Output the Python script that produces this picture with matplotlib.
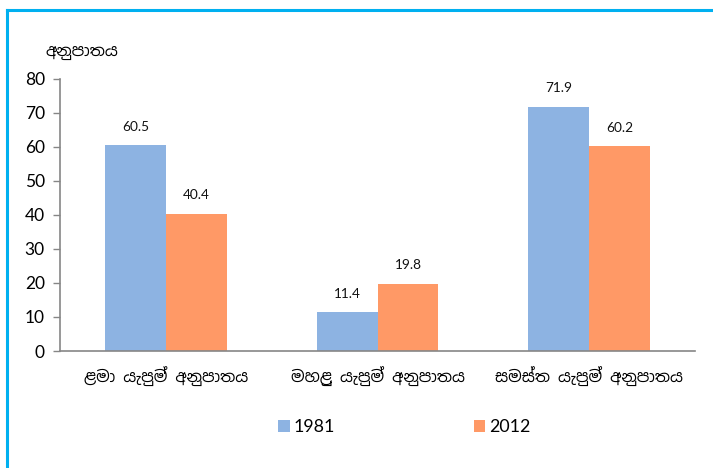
import matplotlib
matplotlib.use("Agg")
import matplotlib.pyplot as plt
from matplotlib.lines import Line2D
import numpy as np

SI = ["Noto Sans Sinhala", "DejaVu Sans"]
NUM = ["Lato", "DejaVu Sans"]

categories = ["ළමා යැපුම් අනුපාතය", "මහළු යැපුම් අනුපාතය", "සමස්ත යැපුම් අනුපාතය"]
series_names = ["1981", "2012"]
vals_1981 = [60.5, 11.4, 71.9]
vals_2012 = [40.4, 19.8, 60.2]
yticks = [0, 10, 20, 30, 40, 50, 60, 70, 80]

BLUE, ORANGE, AXIS = "#8DB3E2", "#FF9966", "#868686"

fig = plt.figure(figsize=(7.13, 4.68), dpi=100)
ax = fig.add_axes([0.0842, 0.25, 0.8906, 0.5812])

x = np.arange(len(categories))
w = 0.288
b1 = ax.bar(x - w / 2, vals_1981, w, color=BLUE, label=series_names[0])
b2 = ax.bar(x + w / 2, vals_2012, w, color=ORANGE, label=series_names[1])

for bars, vals in ((b1, vals_1981), (b2, vals_2012)):
    for b, v in zip(bars, vals):
        ax.annotate(f"{v}", (b.get_x() + b.get_width() / 2, v), xytext=(0, 9),
                    textcoords="offset points", ha="center", va="bottom",
                    fontsize=9.8, family=NUM, color="#111")

ax.set_xlim(-0.5, 2.5)
ax.set_ylim(0, 80)
ax.set_yticks(yticks)
ax.set_yticklabels([str(t) for t in yticks], family=NUM, fontsize=12.5)
ax.set_xticks(x)
ax.set_xticklabels(categories, family=SI, fontsize=11.5)
ax.tick_params(axis="x", length=0, pad=11)
ax.tick_params(axis="y", length=5, width=1, color=AXIS, pad=6, direction="out")
for s in ["top", "right"]:
    ax.spines[s].set_visible(False)
for s in ["left", "bottom"]:
    ax.spines[s].set_color(AXIS)
    ax.spines[s].set_linewidth(1.2)

fig.text(45 / 713, 1 - 52 / 468, "අනුපාතය", family=SI, fontsize=11.5,
         ha="left", va="center")

fig.legend(handles=[b1, b2], loc="center", bbox_to_anchor=(0.567, 0.088), ncol=2,
           frameon=False, prop={"family": NUM, "size": 12.8}, handlelength=0.65,
           handleheight=0.65, handletextpad=0.2, columnspacing=7.8)

# light-blue frame along left and top edges
fig.add_artist(Line2D([7 / 713, 7 / 713], [0, 1 - 10 / 468], transform=fig.transFigure,
                      color="#00B0F0", lw=2.2))
fig.add_artist(Line2D([7 / 713, 1], [1 - 10 / 468, 1 - 10 / 468], transform=fig.transFigure,
                      color="#00B0F0", lw=2.2))

fig.savefig("out.png", dpi=100)
